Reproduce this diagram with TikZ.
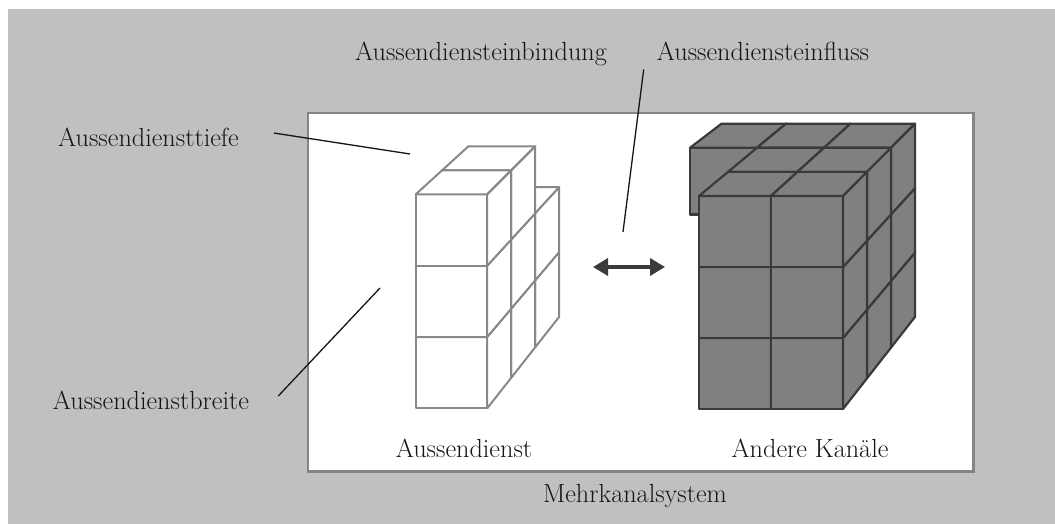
\documentclass[tikz,border=0pt]{standalone}
\usepackage{fontspec}
\usetikzlibrary{arrows.meta}

\definecolor{panel}{HTML}{C0C0C0}
\definecolor{frameline}{HTML}{858585}
\definecolor{lightedge}{HTML}{888888}
\definecolor{darkfill}{HTML}{808080}
\definecolor{darkedge}{HTML}{3A3A3A}
\definecolor{ink}{HTML}{151515}

% one unit cube: #1 face style, #2/#3 projection functions, #4 i (across), #5 j (depth), #6 k (height)
\newcommand\unitcube[6]{%
  \filldraw[#1] ({#2(#4,#5)},{#3(#5,#6)}) -- ({#2(#4+1,#5)},{#3(#5,#6)})
     -- ({#2(#4+1,#5)},{#3(#5,#6+1)}) -- ({#2(#4,#5)},{#3(#5,#6+1)}) -- cycle;
  \filldraw[#1] ({#2(#4,#5)},{#3(#5,#6+1)}) -- ({#2(#4+1,#5)},{#3(#5,#6+1)})
     -- ({#2(#4+1,#5+1)},{#3(#5+1,#6+1)}) -- ({#2(#4,#5+1)},{#3(#5+1,#6+1)}) -- cycle;
  \filldraw[#1] ({#2(#4+1,#5)},{#3(#5,#6)}) -- ({#2(#4+1,#5+1)},{#3(#5+1,#6)})
     -- ({#2(#4+1,#5+1)},{#3(#5+1,#6+1)}) -- ({#2(#4+1,#5)},{#3(#5,#6+1)}) -- cycle;
}

\tikzset{
  declare function={
    wcx(\a,\b)=415.7+71.5*\a+\b*(26.3-2.3*\a);
    wcy(\b,\c)=408.3-71.3*\c-\b*(30.5-2.17*\c);
    dcx(\a,\b)=699+72*\a+\b*(29-2.5*\a);
    dcy(\b,\c)=409-71*\c-\b*(30.7-2.2*\c);
  },
  lbl/.style={anchor=base, inner sep=0pt, text=ink, font=\fontsize{26.2}{31}\selectfont},
  leader/.style={draw=ink, line width=1.3pt},
  wface/.style={fill=white, draw=lightedge, line width=2pt, line join=round},
  dface/.style={fill=darkfill, draw=darkedge, line width=2.2pt, line join=round},
  link/.style={draw=darkedge, line width=3.5pt,
    {Triangle[length=15pt,width=17pt]}-{Triangle[length=15pt,width=17pt]}},
}

\begin{document}
\begin{tikzpicture}[x=1pt, y=-1pt]
\useasboundingbox (0,0) rectangle (1055,524);

% panel and system frame
\fill[panel] (8,9) rectangle (1055,524);
\draw[frameline, line width=2.7pt, fill=white] (308,113) rectangle (973.7,471.5);

% field force stack (white cubes), back to front
\unitcube{wface}{wcx}{wcy}{0}{2}{0}
\unitcube{wface}{wcx}{wcy}{0}{2}{1}
\foreach \k in {0,1,2} {\unitcube{wface}{wcx}{wcy}{0}{1}{\k}}
\foreach \k in {0,1,2} {\unitcube{wface}{wcx}{wcy}{0}{0}{\k}}

% other channels block (dark cubes), back to front
\unitcube{dface}{dcx}{dcy}{-1}{2}{2}
\foreach \j in {2,1,0} {
  \foreach \i in {0,1} {
    \foreach \k in {0,1,2} {\unitcube{dface}{dcx}{dcy}{\i}{\j}{\k}}
  }
}

% labels
\node[lbl] (einbindung) at (481,61) {Aussendiensteinbindung};
\node[lbl] (einfluss) at (763,61) {Aussendiensteinfluss};
\node[lbl] (tiefe) at (148.5,147) {Aussendiensttiefe};
\node[lbl] (breite) at (151,409) {Aussendienstbreite};
\node[lbl] (aussen) at (464,457) {Aussendienst};
\node[lbl] (andere) at (810,457) {Andere Kanäle};
\node[lbl] (mehr) at (635,502) {Mehrkanalsystem};

% leader lines
\coordinate (tiefeEnd) at (410,154);
\coordinate (breiteEnd) at (380,288);
\coordinate (einflussEnd) at (623,232);
\draw[leader] ([shift={(35,-4.8)}]tiefe.east) -- (tiefeEnd);
\draw[leader] ([shift={(29,-3.8)}]breite.east) -- (breiteEnd);
\draw[leader] ([shift={(-13,8)}]einfluss.south west) -- (einflussEnd);

% interaction arrow
\coordinate (linkL) at (593,267);
\coordinate (linkR) at (665,267);
\draw[link] (linkL) -- (linkR);
\end{tikzpicture}
\end{document}
